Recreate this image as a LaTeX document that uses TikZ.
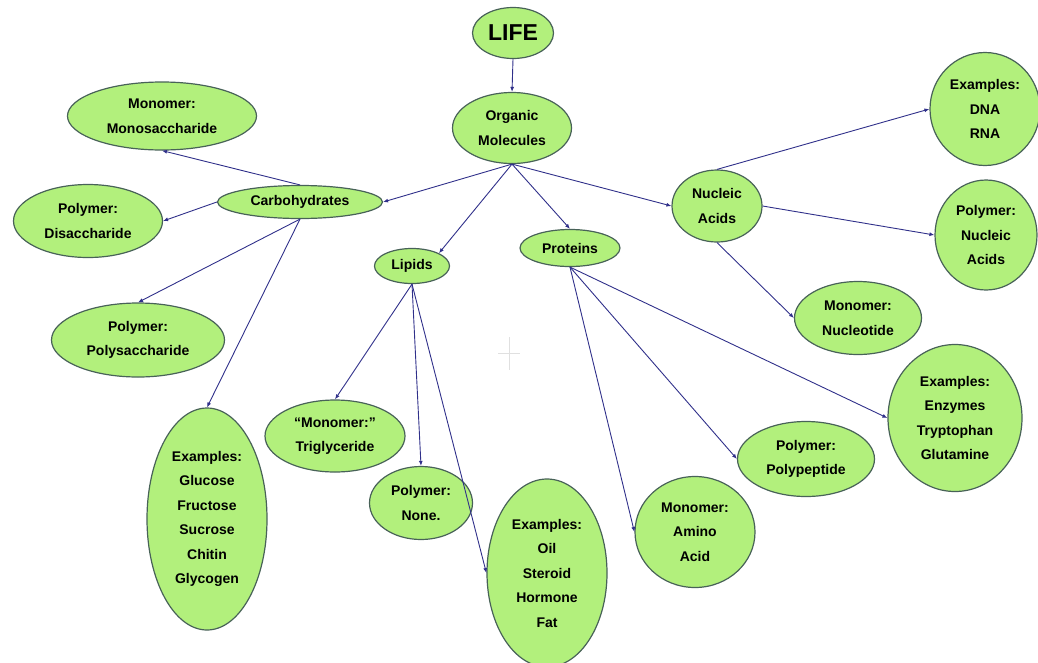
\documentclass[tikz,border=0pt]{standalone}
\usepackage{fontspec}
\setmainfont{Liberation Sans}
\usetikzlibrary{arrows.meta,shapes.geometric}
\definecolor{leaf}{RGB}{178,240,124}
\definecolor{rim}{RGB}{72,98,88}
\definecolor{ink}{RGB}{48,48,138}
\tikzset{
  blob/.style 2 args = {ellipse, draw=rim, line width=1.2pt, fill=leaf, inner sep=0pt,
                        align=center, minimum width=#1pt, minimum height=#2pt,
                        font=\bfseries\fontsize{14}{24.5}\selectfont},
  link/.style  = {-{Latex[length=5pt,width=4pt]}, ink, line width=0.9pt},
}
\begin{document}
\begin{tikzpicture}[x=1pt,y=-1pt]
  \useasboundingbox (0,0) rectangle (1038,662);
  % top
  \node[blob={81}{51}, font=\bfseries\fontsize{23}{26}\selectfont] (life) at (513,33) {LIFE};
  \node[blob={119}{71}] (org) at (512,128) {Organic\\Molecules};
  % carbohydrates
  \node[blob={165}{33}] (carb) at (300,202) {Carbohydrates};
  \node[blob={189}{68}] (mono) at (162,116) {Monomer:\\Monosaccharide};
  \node[blob={149}{73}] (disa) at (88,221) {Polymer:\\Disaccharide};
  \node[blob={173}{74}] (poly) at (138,340) {Polymer:\\Polysaccharide};
  \node[blob={120}{222}] (glu) at (207,519) {Examples:\\Glucose\\Fructose\\Sucrose\\Chitin\\Glycogen};
  % lipids
  \node[blob={75}{35}] (lip) at (412,266) {Lipids};
  \node[blob={140}{72}] (trig) at (335,436) {``Monomer:''\\Triglyceride};
  \node[blob={103}{73}] (none) at (421,503) {Polymer:\\None.};
  \node[blob={120}{188}] (oil) at (547,573) {Examples:\\Oil\\Steroid\\Hormone\\Fat};
  % proteins
  \node[blob={100}{37}] (prot) at (570,248) {Proteins};
  \node[blob={120}{111}] (amino) at (695,532) {Monomer:\\Amino\\Acid};
  \node[blob={137}{75}] (pept) at (806,459) {Polymer:\\Polypeptide};
  \node[blob={134}{147}] (enz) at (955,418) {Examples:\\Enzymes\\Tryptophan\\Glutamine};
  % nucleic acids
  \node[blob={90}{72}] (nuc) at (717,206) {Nucleic\\Acids};
  \node[blob={110}{113}] (dna) at (985,109) {Examples:\\DNA\\RNA};
  \node[blob={102}{110}] (pna) at (986,235) {Polymer:\\Nucleic\\Acids};
  \node[blob={127}{73}] (ntide) at (858,318) {Monomer:\\Nucleotide};

  \draw[link] (life.south) -- (org.north);
  \draw[link] (org.south) -- (carb.east);
  \draw[link] (org.south) -- (lip.north east);
  \draw[link] (org.south) -- (prot.north);
  \draw[link] (org.south) -- (nuc.west);

  \draw[link] (carb.north) -- (mono.south);
  \draw[link] (carb.west) -- (disa.east);
  \draw[link] (carb.south) -- (poly.north);
  \draw[link] (carb.south) -- (glu.north);

  \draw[link] (lip.south) -- (trig.north);
  \draw[link] (lip.south) -- (none.north);
  \draw[link] (lip.south) -- (oil.west);

  \draw[link] (prot.south) -- (amino.west);
  \draw[link] (prot.south) -- (pept.west);
  \draw[link] (prot.south) -- (enz.west);

  \draw[link] (nuc.north) -- (dna.west);
  \draw[link] (nuc.east) -- (pna.west);
  \draw[link] (nuc.south) -- (ntide.west);

  % faint cross in the middle
  \draw[black!12, line width=1pt] (509,337) -- (509,370) (498,353) -- (520,353);
\end{tikzpicture}
\end{document}
